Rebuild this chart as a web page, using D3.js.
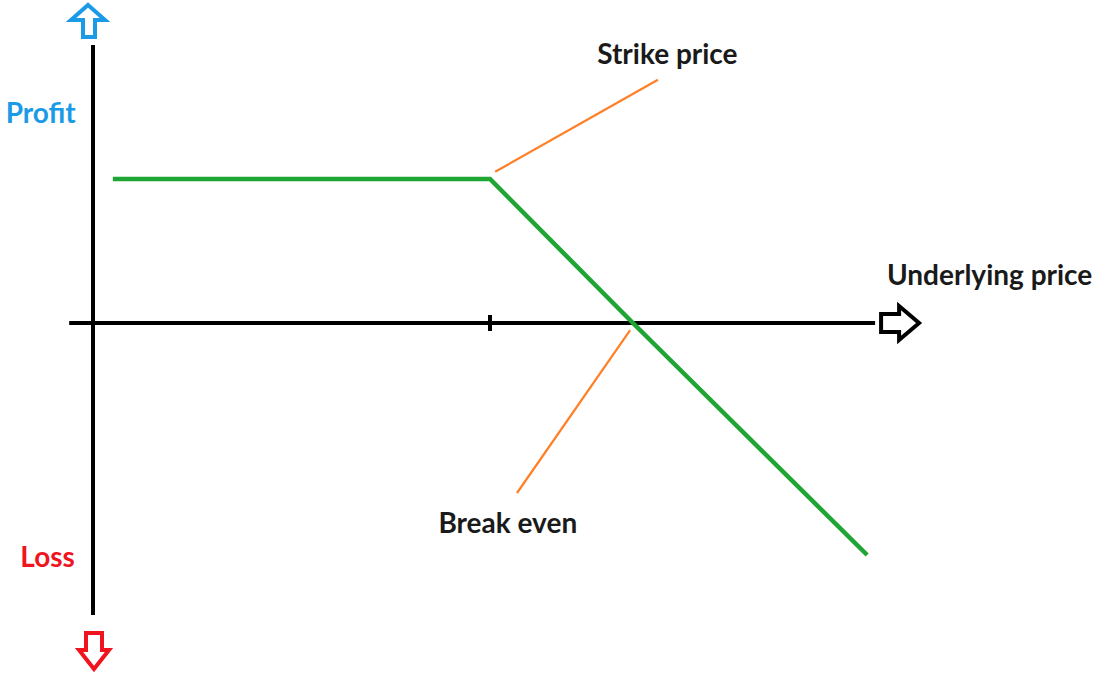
<!DOCTYPE html>
<html>
<head>
<meta charset="utf-8">
<script src="https://d3js.org/d3.v7.min.js"></script>
<style>
  html, body { margin: 0; padding: 0; background: #fff; }
  svg text { font-family: Lato, "Open Sans", sans-serif; font-weight: bold; }
</style>
</head>
<body>
<div id="chart"></div>
<script>
// Payoff of a short put style position: flat profit until the strike, then falling
const payoffPrice = [5, 100, 136, 195];
const payoffProfit = [36, 36, 0, -58];

const strikePrice = 100;
const breakEven = 136;

// axis extents in data units
const xAxisRange = [-6, 197];
const yAxisRange = [69.5, -73];

// annotation labels: [text, price, profit, colour]
const labels = [
    ["Strike price", 127, 64.7, "#1a1a1a"],
    ["Break even", 87, -52.5, "#1a1a1a"],
    ["Underlying price", 200, 9.5, "#1a1a1a"],
    ["Profit", -22, 50, "#1b9be6"],
    ["Loss", -18.3, -61, "#f0141e"]
];

// leader lines from the curve to the labels: [price1, profit1, price2, profit2]
const leaders = [
    [101.3, 37.8, 142.3, 60.8],
    [135.3, -1.8, 106.8, -42.5]
];

(function draw() {
    const width = 1097, height = 673;
    const svg = d3.select("#chart").append("svg")
        .attr("width", width).attr("height", height);

    const x = d3.scaleLinear().domain([0, 200]).range([93, 887]);
    const y = d3.scaleLinear().domain([0, 36]).range([323, 179]);

    const x0 = x(0), y0 = y(0);

    // axes
    svg.append("line")
        .attr("x1", x0).attr("x2", x0)
        .attr("y1", y(yAxisRange[0])).attr("y2", y(yAxisRange[1]))
        .attr("stroke", "#000").attr("stroke-width", 4);
    svg.append("line")
        .attr("x1", x(xAxisRange[0])).attr("x2", x(xAxisRange[1]))
        .attr("y1", y0).attr("y2", y0)
        .attr("stroke", "#000").attr("stroke-width", 4);

    // strike tick
    svg.append("line")
        .attr("x1", x(strikePrice)).attr("x2", x(strikePrice))
        .attr("y1", y0 - 8).attr("y2", y0 + 8)
        .attr("stroke", "#000").attr("stroke-width", 4);

    // hollow arrows at the axis ends
    const arrow = (pts, colour) => svg.append("path")
        .attr("d", "M" + pts.map(p => p.join(",")).join("L") + "Z")
        .attr("fill", "#fff").attr("stroke", colour)
        .attr("stroke-width", 4).attr("stroke-linejoin", "miter");

    const topY = y(yAxisRange[0]);
    const ux = x0 - 5;
    arrow([[ux, topY - 40], [ux + 17, topY - 25], [ux + 7, topY - 25], [ux + 7, topY - 8],
           [ux - 5, topY - 8], [ux - 5, topY - 25], [ux - 17, topY - 25]], "#1b9be6");

    const botY = y(yAxisRange[1]);
    const dx = x0 + 1;
    arrow([[dx - 8, botY + 18], [dx + 8, botY + 18], [dx + 8, botY + 35], [dx + 15, botY + 35],
           [dx, botY + 54], [dx - 15, botY + 35], [dx - 8, botY + 35]], "#f0141e");

    const rx = x(xAxisRange[1]);
    arrow([[rx + 6, y0 - 9], [rx + 24, y0 - 9], [rx + 24, y0 - 17], [rx + 44, y0],
           [rx + 24, y0 + 17], [rx + 24, y0 + 9], [rx + 6, y0 + 9]], "#000");

    // payoff line
    const payoff = payoffPrice.map((p, i) => [p, payoffProfit[i]]);
    svg.append("path")
        .datum(payoff)
        .attr("d", d3.line().x(d => x(d[0])).y(d => y(d[1])))
        .attr("fill", "none").attr("stroke", "#1ea533").attr("stroke-width", 4.5);

    // leader lines
    svg.selectAll(".leader").data(leaders).enter().append("line")
        .attr("x1", d => x(d[0])).attr("y1", d => y(d[1]))
        .attr("x2", d => x(d[2])).attr("y2", d => y(d[3]))
        .attr("stroke", "#ff7f27").attr("stroke-width", 2.2);

    // labels
    svg.selectAll(".label").data(labels).enter().append("text")
        .attr("x", d => x(d[1])).attr("y", d => y(d[2]))
        .attr("fill", d => d[3])
        .attr("font-size", 28)
        .text(d => d[0]);
})();
</script>
</body>
</html>
